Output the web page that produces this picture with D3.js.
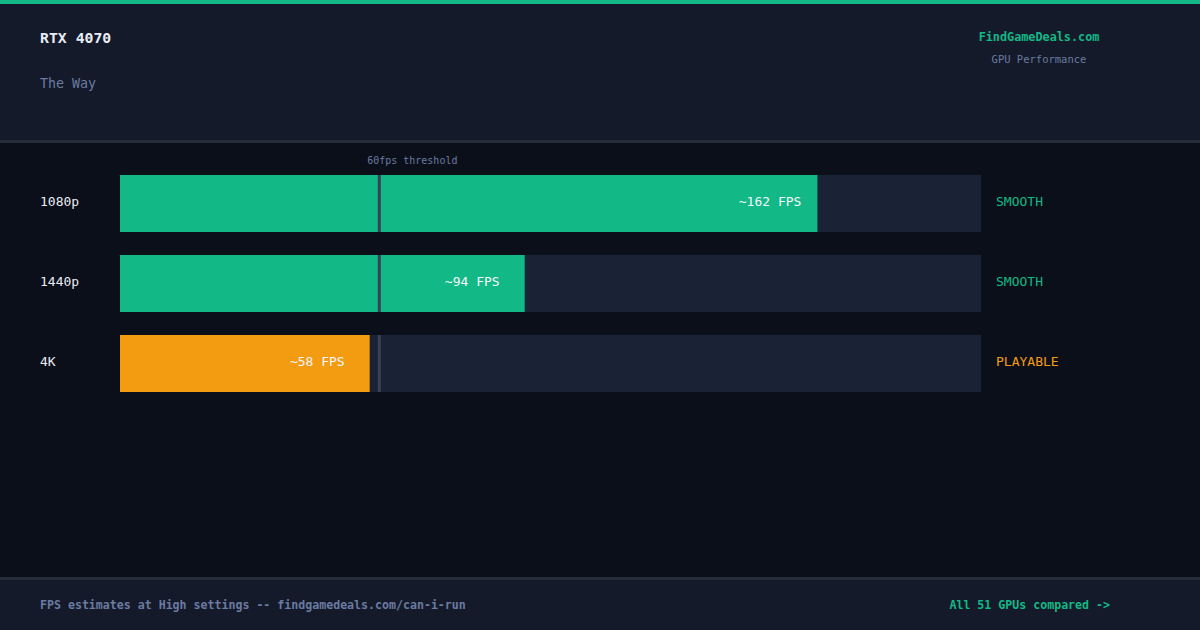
<!DOCTYPE html>
<html><head><meta charset="utf-8">
<script src="https://cdn.jsdelivr.net/npm/d3@7"></script>
<style>body{margin:0;background:#0b0f19}svg{display:block}</style>
</head><body>
<script>
// données du graphique
const resolutions = ["1080p", "1440p", "4K"];
const fps = [162, 94, 58];
const statut = ["SMOOTH", "SMOOTH", "PLAYABLE"];
const seuil = 60;
const fpsMax = 200;

const W = 1200, H = 630;
const font = "'DejaVu Sans Mono', monospace";
const vert = "#12b886", orange = "#f39c12";

const svg = d3.select("body").append("svg").attr("width", W).attr("height", H)
    .style("font-family", font);

svg.append("rect").attr("width", W).attr("height", H).attr("fill", "#0b0f19");
// entête
svg.append("rect").attr("width", W).attr("height", 140).attr("fill", "#141a29");
svg.append("rect").attr("width", W).attr("height", 4).attr("fill", vert);
svg.append("rect").attr("y", 140).attr("width", W).attr("height", 3).attr("fill", "#252c3a");
svg.append("text").attr("x", 40).attr("y", 43).text("RTX 4070")
    .attr("fill", "#e8ecf4").attr("font-size", 14.8).attr("font-weight", "bold");
svg.append("text").attr("x", 40).attr("y", 88).text("The Way")
    .attr("fill", "#6b7aa1").attr("font-size", 13.3);
svg.append("text").attr("x", 1039).attr("y", 41).text("FindGameDeals.com")
    .attr("text-anchor", "middle").attr("fill", vert).attr("font-size", 11.8).attr("font-weight", "bold");
svg.append("text").attr("x", 1039).attr("y", 63).text("GPU Performance")
    .attr("text-anchor", "middle").attr("fill", "#6b7aa1").attr("font-size", 10.5);

// pied de page
svg.append("rect").attr("y", 577).attr("width", W).attr("height", 53).attr("fill", "#141a29");
svg.append("rect").attr("y", 577).attr("width", W).attr("height", 3).attr("fill", "#252c3a");
svg.append("text").attr("x", 40).attr("y", 609).text("FPS estimates at High settings -- findgamedeals.com/can-i-run")
    .attr("fill", "#6b7aa1").attr("font-size", 11.6).attr("font-weight", "bold");
svg.append("text").attr("x", 1110).attr("y", 609).text("All 51 GPUs compared ->")
    .attr("text-anchor", "end").attr("fill", vert).attr("font-size", 11.6).attr("font-weight", "bold");

// échelles
const x = d3.scaleLinear().domain([0, fpsMax]).range([120, 981]);
const y = d3.scaleBand().domain(resolutions).range([175, 392]).paddingInner(0.2875);

const groupe = svg.selectAll(".ligne").data(resolutions).enter().append("g");

groupe.append("rect").attr("x", x(0)).attr("y", d => y(d))
    .attr("width", x(fpsMax) - x(0)).attr("height", y.bandwidth()).attr("fill", "#1a2235");
groupe.append("rect").attr("x", x(0)).attr("y", d => y(d))
    .attr("width", (d, i) => x(fps[i]) - x(0)).attr("height", y.bandwidth())
    .attr("fill", (d, i) => fps[i] >= seuil ? vert : orange);
groupe.append("rect").attr("x", x(seuil) - 0.5).attr("y", d => y(d))
    .attr("width", 3).attr("height", y.bandwidth()).attr("fill", "#3a4152");
groupe.append("text").attr("x", 40).attr("y", d => y(d) + y.bandwidth() / 2 + 2)
    .text(d => d).attr("fill", "#e8ecf4").attr("font-size", 13);
groupe.append("text").attr("x", (d, i) => x(fps[i]) - (fps[i] > 100 ? 16 : 25)).attr("y", d => y(d) + y.bandwidth() / 2 + 2)
    .text((d, i) => "~" + fps[i] + " FPS").attr("text-anchor", "end")
    .attr("fill", "#f4f6fa").attr("font-size", 13);
groupe.append("text").attr("x", 996).attr("y", d => y(d) + y.bandwidth() / 2 + 2)
    .text((d, i) => statut[i]).attr("fill", (d, i) => fps[i] >= seuil ? vert : orange).attr("font-size", 13);

svg.append("text").attr("x", x(seuil) + 34).attr("y", 164).text("60fps threshold")
    .attr("text-anchor", "middle").attr("fill", "#6b7aa1").attr("font-size", 10);
</script>
</body></html>
